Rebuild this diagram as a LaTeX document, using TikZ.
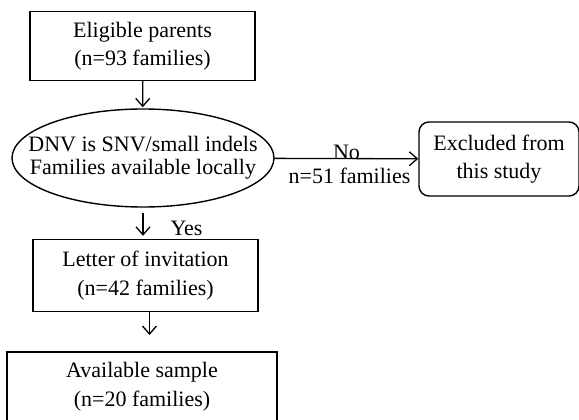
\documentclass[tikz,border=0pt]{standalone}
\usepackage{fontspec}
\setmainfont{Liberation Serif}
\usetikzlibrary{shapes.geometric,arrows.meta}

\tikzset{
	txt/.style={font=\fontsize{22}{28.5}\selectfont, align=center},
	box/.style={txt, draw, line width=1.4pt, inner sep=0pt},
	oval/.style={box, ellipse, font=\fontsize{22}{23}\selectfont, inner xsep=-30pt, inner ysep=-10pt},
	roundbox/.style={box, rounded corners=10pt},
	flow/.style={->, line width=1.3pt}
}

\begin{document}
\begin{tikzpicture}[x=1pt,y=-1pt,>={Straight Barb[length=8pt,width=14pt]}]
		\clip (0,0) rectangle (579,420);
		
		\node[box,minimum width=225pt,minimum height=69pt] (parents) at (142.5,46) {Eligible parents\\(n=93 families)};
		\node[oval,minimum width=262pt,minimum height=98pt] (check) at (143,158) {DNV is SNV/small indels\\Families available locally};
		\node[roundbox,minimum width=160pt,minimum height=74pt] (excluded) at (499,159) {Excluded from\\this study};
		\node[box,minimum width=225pt,minimum height=72pt] (letter) at (145.5,275.5) {Letter of invitation\\(n=42 families)};
		\node[box,minimum width=270pt,minimum height=69pt] (sample) at (142,386.5) {Available sample\\(n=20 families)};
		
		\draw[flow,shorten >=1pt] (parents) -- (check);
		\draw[flow] (check) -- (excluded)
			node[txt,midway,anchor=base,yshift=-1pt] (no) {No}
			node[txt,midway,anchor=north,xshift=3pt,yshift=-5pt] (nfam) {n=51 families};
		\draw[flow,shorten <=5pt,shorten >=3pt] (check.south) -- (check.south |- letter.north);
		\node[txt,anchor=base west] (yes) at (167,235) {Yes};
		
		\coordinate (gap) at (149.5,335);
		\draw[flow] (letter.south -| gap) -- (gap);
	\end{tikzpicture}
\end{document}
